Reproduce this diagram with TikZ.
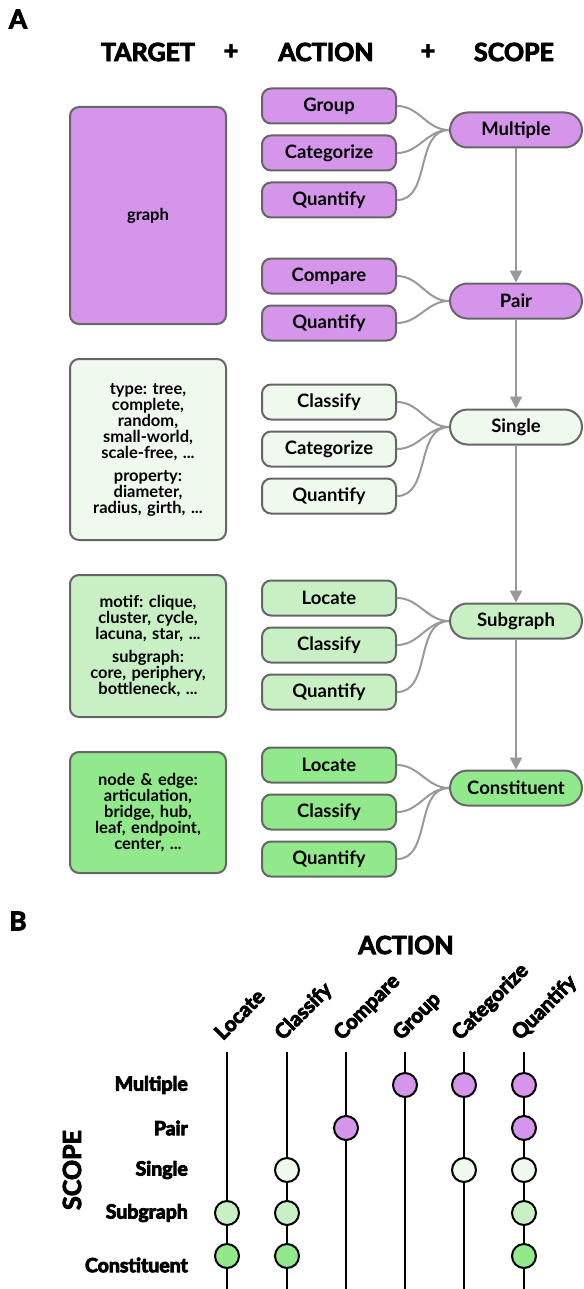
\documentclass[tikz,border=0pt]{standalone}
\usepackage{fontspec}
\setmainfont{Lato}
\newcommand{\heavy}{\bfseries\special{pdf:literal direct 2 Tr 0.9 w 0 G}}
\usetikzlibrary{shapes.misc,arrows.meta}
\definecolor{pur}{RGB}{212,149,234}
\definecolor{pale}{RGB}{240,249,237}
\definecolor{lgr}{RGB}{201,240,196}
\definecolor{grn}{RGB}{146,233,139}
\definecolor{bord}{RGB}{102,102,102}
\definecolor{conn}{RGB}{153,153,153}
\tikzset{
  boxtxt/.style={font=\frenchspacing\bfseries\fontsize{16.5}{16}\selectfont},
  targetbox/.style={draw=bord, line width=2pt, rounded corners=9pt, minimum width=156pt, text width=150pt, align=center, boxtxt, inner sep=0pt},
  actbox/.style={draw=bord, line width=2pt, rounded corners=9pt, minimum width=134pt, minimum height=35pt, inner sep=0pt, font=\bfseries\fontsize{18.5}{20}\selectfont},
  scpbox/.style={rounded rectangle, draw=bord, line width=2pt, minimum width=132pt, minimum height=35pt, inner sep=0pt, font=\bfseries\fontsize{18.5}{20}\selectfont},
  cline/.style={draw=conn, line width=2pt},
  flowarrow/.style={draw=conn, line width=2pt, -{Triangle[length=12pt,width=12pt]}},
  headtxt/.style={font=\heavy\fontsize{25}{28}\selectfont},
  paneltxt/.style={font=\heavy\fontsize{26}{28}\selectfont},
  rowtxt/.style={font=\heavy\fontsize{19.5}{20}\selectfont, anchor=east, inner sep=0pt},
  coltxt/.style={font=\heavy\fontsize{20.5}{22}\selectfont, rotate=45, anchor=base west, inner sep=0pt},
  dot/.style={circle, draw=black, line width=2pt, minimum size=24pt, inner sep=0pt},
  vline/.style={draw=black, line width=2pt}
}
\begin{document}
\lineskiplimit=-20pt
\begin{tikzpicture}[x=1pt,y=-1pt]
\useasboundingbox (0,0) rectangle (583,1289);
% panel labels
\node[paneltxt] (pA) at (18,19) {A};
\node[paneltxt] (pB) at (18,921) {B};
% headings
\node[headtxt] (hT) at (148,52) {TARGET};
\node[headtxt] (hp1) at (231,52) {+};
\node[headtxt] (hA) at (326,52) {ACTION};
\node[headtxt] (hp2) at (428,52) {+};
\node[headtxt] (hS) at (514,52) {SCOPE};
% target boxes
\node[targetbox, fill=pur, minimum height=217pt] (t1) at (148,215.5) {graph};
\node[targetbox, fill=pale, minimum height=181pt] (t2) at (148,449.5) {type: tree,\\complete,\\random,\\small-world,\\scale-free, ...\\[7pt]property:\\diameter,\\radius, girth, ...};
\node[targetbox, fill=lgr, minimum height=142pt] (t3) at (148,646) {motif: clique,\\cluster, cycle,\\lacuna, star, ...\\[7pt]subgraph:\\core, periphery,\\bottleneck, ...};
\node[targetbox, fill=grn, minimum height=121pt] (t4) at (148,812.5) {node \& edge:\\articulation,\\bridge, hub,\\leaf, endpoint,\\center, ...};
% scope boxes
\node[scpbox, fill=pur] (sM) at (516,130) {Multiple};
\node[scpbox, fill=pur] (sP) at (516,301) {Pair};
\node[scpbox, fill=pale] (sS) at (516,427) {Single};
\node[scpbox, fill=lgr] (sG) at (516,621) {Subgraph};
\node[scpbox, fill=grn] (sC) at (516,788) {Constituent};
% action boxes
\node[actbox, fill=pur] (a1) at (329,106) {Group};
\node[actbox, fill=pur] (a2) at (329,153) {Categorize};
\node[actbox, fill=pur] (a3) at (329,200) {Quantify};
\node[actbox, fill=pur] (a4) at (329,276) {Compare};
\node[actbox, fill=pur] (a5) at (329,323) {Quantify};
\node[actbox, fill=pale] (a6) at (329,402) {Classify};
\node[actbox, fill=pale] (a7) at (329,449) {Categorize};
\node[actbox, fill=pale] (a8) at (329,496) {Quantify};
\node[actbox, fill=lgr] (a9) at (329,598) {Locate};
\node[actbox, fill=lgr] (a10) at (329,645) {Classify};
\node[actbox, fill=lgr] (a11) at (329,692) {Quantify};
\node[actbox, fill=grn] (a12) at (329,765) {Locate};
\node[actbox, fill=grn] (a13) at (329,812) {Classify};
\node[actbox, fill=grn] (a14) at (329,859) {Quantify};
% connectors
\foreach \a in {a1,a2,a3} \draw[cline] (\a.east) to[out=0,in=180] (sM.west);
\foreach \a in {a4,a5} \draw[cline] (\a.east) to[out=0,in=180] (sP.west);
\foreach \a in {a6,a7,a8} \draw[cline] (\a.east) to[out=0,in=180] (sS.west);
\foreach \a in {a9,a10,a11} \draw[cline] (\a.east) to[out=0,in=180] (sG.west);
\foreach \a in {a12,a13,a14} \draw[cline] (\a.east) to[out=0,in=180] (sC.west);
\draw[flowarrow] (sM.south) -- (sP.north);
\draw[flowarrow] (sP.south) -- (sS.north);
\draw[flowarrow] (sS.south) -- (sG.north);
\draw[flowarrow] (sG.south) -- (sC.north);
% panel B
\node[headtxt] (bA) at (406,945) {ACTION};
\node[headtxt, rotate=90] (bS) at (72,1170) {SCOPE};
\node[rowtxt] (rM) at (188,1085) {Multiple};
\node[rowtxt] (rP) at (188,1128) {Pair};
\node[rowtxt] (rS) at (188,1170) {Single};
\node[rowtxt] (rG) at (188,1213) {Subgraph};
\node[rowtxt] (rC) at (188,1265) {Constituent};
\foreach \x/\n/\t in {227/c1/Locate, 287/c2/Classify, 346/c3/Compare, 405/c4/Group, 464/c5/Categorize, 524/c6/Quantify}{
  \coordinate (\n top) at (\x,1052);
  \coordinate (\n bot) at (\x,1289);
  \draw[vline] (\n top) -- (\n bot);
  \node[coltxt] (\n lab) at (\x-4,1041) {\t};
}
% dots
\node[dot, fill=pur] (d41) at (c4top |- 0,1085) {};
\node[dot, fill=pur] (d51) at (c5top |- 0,1085) {};
\node[dot, fill=pur] (d61) at (c6top |- 0,1085) {};
\node[dot, fill=pur] (d32) at (c3top |- 0,1128) {};
\node[dot, fill=pur] (d62) at (c6top |- 0,1128) {};
\node[dot, fill=pale] (d23) at (c2top |- 0,1170) {};
\node[dot, fill=pale] (d53) at (c5top |- 0,1170) {};
\node[dot, fill=pale] (d63) at (c6top |- 0,1170) {};
\node[dot, fill=lgr] (d14) at (c1top |- 0,1213) {};
\node[dot, fill=lgr] (d24) at (c2top |- 0,1213) {};
\node[dot, fill=lgr] (d64) at (c6top |- 0,1213) {};
\node[dot, fill=grn] (d15) at (c1top |- 0,1256) {};
\node[dot, fill=grn] (d25) at (c2top |- 0,1256) {};
\node[dot, fill=grn] (d65) at (c6top |- 0,1256) {};
\end{tikzpicture}
\end{document}
